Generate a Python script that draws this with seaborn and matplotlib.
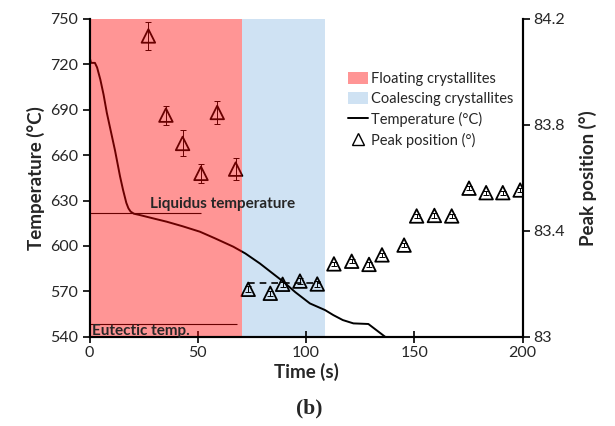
import matplotlib
matplotlib.use("Agg")
import matplotlib.pyplot as plt
import seaborn as sns
import pandas as pd
from matplotlib.patches import Patch
from matplotlib.lines import Line2D

# ---------------------------------------------------------------
# Dati
# ---------------------------------------------------------------
temp_time = [0, 0.7, 2.5, 3.5, 5, 6.5, 8, 11.8, 14.1, 15.5, 17, 18, 19, 20.5,
             23, 30, 35.7, 43, 51, 58, 66.4, 72, 78.7, 84, 89.5, 95, 101.8,
             108.8, 112.6, 117, 121.9, 128.8, 136.5]
temp_val = [725, 721, 721, 718, 710, 700, 688, 663, 646, 637, 628.5, 624.8,
            622.7, 621.3, 620.5, 618, 616, 613, 609.4, 605, 599.5, 595, 588.4,
            582.5, 576.4, 569.5, 562, 557.6, 554.3, 551, 548.8, 548.4, 540]

peak_time = [27.2, 35.3, 43.0, 51.5, 59.0, 67.5, 73.3, 83.5, 89.2, 97.2, 105.2,
             112.9, 121.1, 129.1, 135.1, 145.3, 151.1, 159.3, 167.3, 175.3,
             183.2, 190.9, 198.9]
peak_pos = [84.136, 83.837, 83.730, 83.617, 83.847, 83.633, 83.179, 83.164,
            83.198, 83.210, 83.199, 83.275, 83.285, 83.273, 83.309, 83.346,
            83.456, 83.458, 83.456, 83.561, 83.544, 83.544, 83.554]
peak_err = [0.053, 0.036, 0.049, 0.035, 0.044, 0.041, 0.012, 0.010, 0.010,
            0.010, 0.010, 0.008, 0.008, 0.008, 0.008, 0.008, 0.008, 0.008,
            0.008, 0.008, 0.008, 0.008, 0.008]

floating_range = [0, 70.5]
coalescing_range = [70.5, 109]
coalescing_mean = 83.204
coalescing_mean_range = [73, 107]

liquidus_temp = 621.6
liquidus_end = 51.5
eutectic_temp = 548.2
eutectic_end = 68

temp_ticks = [540, 570, 600, 630, 660, 690, 720, 750]
peak_ticks = [83, 83.4, 83.8, 84.2]
peak_tick_labels = ["83", "83.4", "83.8", "84.2"]
time_ticks = [0, 50, 100, 150, 200]

RED = "#FF0000"
RED_ALPHA = 0.415
BLUE = "#CFE2F3"

df_temp = pd.DataFrame({"time": temp_time, "temp": temp_val})
df_peak = pd.DataFrame({"time": peak_time, "pos": peak_pos, "err": peak_err})

# ---------------------------------------------------------------
# Figura
# ---------------------------------------------------------------
sns.set_theme(style="ticks")
plt.rcParams["font.family"] = ["Lato", "DejaVu Sans"]

fig = plt.figure(figsize=(6.15, 4.26), dpi=100)
ax = fig.add_axes([89.5 / 615, 1 - 336.7 / 426, 433 / 615, 317.7 / 426])
ax2 = ax.twinx()

# regione "coalescing" sotto tutto
ax.axvspan(*coalescing_range, color=BLUE, lw=0, zorder=0)

sns.lineplot(data=df_temp, x="time", y="temp", ax=ax, color="black", lw=1.4,
             zorder=2)
ax.hlines(liquidus_temp, 0, liquidus_end, color="black", lw=0.8, zorder=2)
ax.hlines(eutectic_temp, 0, eutectic_end, color="black", lw=0.8, zorder=2)

ax.set_xlim(0, 200)
ax.set_ylim(540, 750)
ax.set_xticks(time_ticks)
ax.set_yticks(temp_ticks)
ax.set_xlabel("Time (s)", fontsize=13.5, fontweight="bold", labelpad=2)
ax.set_ylabel("Temperature (°C)", fontsize=13.5, fontweight="bold", labelpad=4)
ax.tick_params(axis="y", direction="out", length=5, width=1.2, labelsize=11.5,
               color="black", pad=3)
ax.tick_params(axis="x", direction="inout", length=9, width=1.2, labelsize=11.5,
               color="black", pad=2)

# posizione dei picchi (asse destro)
ax2.errorbar(df_peak["time"], df_peak["pos"], yerr=df_peak["err"], fmt="none",
             ecolor="black", elinewidth=0.7, capsize=2.5, capthick=0.7, zorder=1)
sns.scatterplot(data=df_peak, x="time", y="pos", ax=ax2, marker="^", s=95,
                facecolor="none", edgecolor="black", linewidth=1.3, zorder=1)
ax2.hlines(coalescing_mean, *coalescing_mean_range, color="black", lw=1.2,
           linestyles=(0, (4, 3)), zorder=1)

# regione "floating" sopra le curve, semitrasparente
ax2.axvspan(*floating_range, color=RED, alpha=RED_ALPHA, lw=0, zorder=1.5)

ax2.set_ylim(83, 84.2)
ax2.set_yticks(peak_ticks)
ax2.set_yticklabels(peak_tick_labels)
ax2.set_xlabel("")
ax2.set_ylabel("Peak position (°)", fontsize=13.5, fontweight="bold", labelpad=10)
ax2.tick_params(axis="y", direction="out", length=5, width=1.2, labelsize=11.5,
                color="black", pad=3)

for a in (ax, ax2):
    a.spines["top"].set_visible(False)
    for s in ("left", "bottom", "right"):
        a.spines[s].set_linewidth(1.5)
        a.spines[s].set_color("black")

ax2.text(28, 627.5, "Liquidus temperature", transform=ax.transData,
         fontsize=11, fontweight="bold", va="center", ha="left", zorder=3)
ax2.text(1.0, 543.9, "Eutectic temp.", transform=ax.transData,
         fontsize=11, fontweight="bold", va="center", ha="left", zorder=3)

handles = [
    Patch(facecolor=RED, alpha=RED_ALPHA, lw=0),
    Patch(facecolor=BLUE, lw=0),
    Line2D([], [], color="black", lw=1.4),
    Line2D([], [], marker="^", ls="none", mfc="none", mec="black", ms=8, mew=1),
]
labels = ["Floating crystallites", "Coalescing crystallites",
          "Temperature (°C)", "Peak position (°)"]
ax2.legend(handles, labels, loc="upper left",
           bbox_to_anchor=(348 / 615, 1 - 72 / 426),
           bbox_transform=fig.transFigure, frameon=False, fontsize=10.5,
           handlelength=1.4, handleheight=0.9, handletextpad=0.15,
           labelspacing=0.4, borderaxespad=0, borderpad=0)

fig.text(309 / 615, 1 - 408 / 426, "(b)", fontsize=15.5, fontweight="bold",
         family="Liberation Serif", ha="center", va="center")

fig.savefig("out.png", dpi=100)
